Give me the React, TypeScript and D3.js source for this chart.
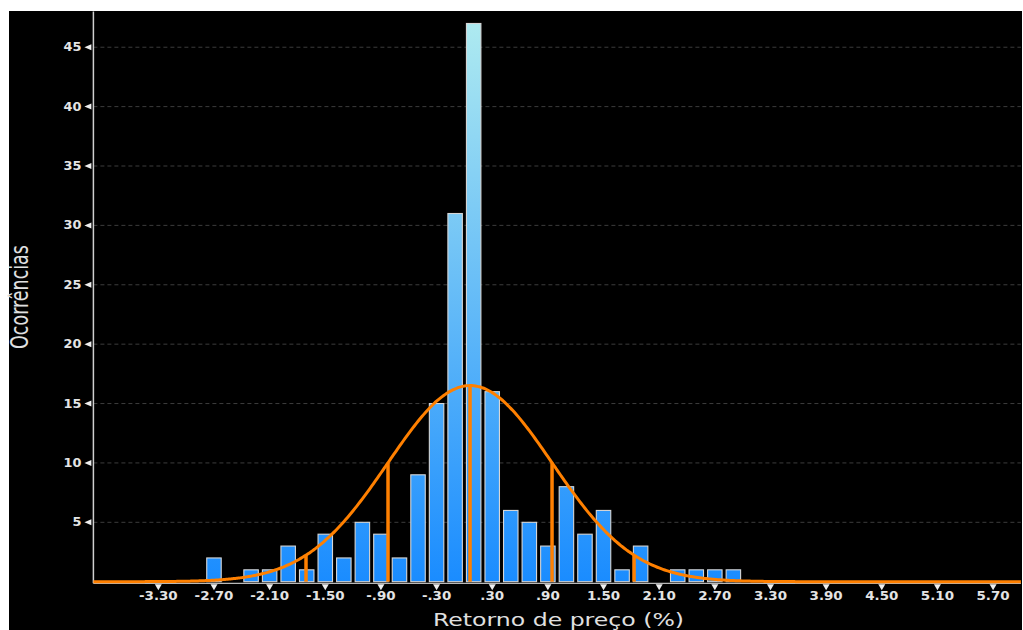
import React from 'react';
import * as d3 from 'd3';

// histogram bins (centre of each 0.2-wide bin) and counts
const binCenters = [
    -2.7, -2.5, -2.3, -2.1, -1.9, -1.7, -1.5, -1.3, -1.1, -0.9, -0.7, -0.5, -0.3, -0.1,
    0.1, 0.3, 0.5, 0.7, 0.9, 1.1, 1.3, 1.5, 1.7, 1.9, 2.1, 2.3, 2.5, 2.7, 2.9,
];
const counts = [
    2, 0, 1, 1, 3, 1, 4, 2, 5, 4, 2, 9, 15, 31,
    47, 16, 6, 5, 3, 8, 4, 6, 1, 3, 0, 1, 1, 1, 1,
];
const binWidth = 0.2;

const xTicks = [-3.3, -2.7, -2.1, -1.5, -0.9, -0.3, 0.3, 0.9, 1.5, 2.1, 2.7, 3.3, 3.9, 4.5, 5.1, 5.7];
const xTickLabels = ['-3.30', '-2.70', '-2.10', '-1.50', '-.90', '-.30', '.30', '.90', '1.50', '2.10', '2.70', '3.30', '3.90', '4.50', '5.10', '5.70'];
const yTicks = [5, 10, 15, 20, 25, 30, 35, 40, 45];
const sigmaMarks = [-2, -1, 0, 1, 2];

const xTitle = 'Retorno de preço (%)';
const yTitle = 'Ocorrências';

const W = 1023;
const H = 630;

export default function App() {
    const x = d3.scaleLinear().domain([-4, 6]).range([93.4, 1020.9]);
    const y = d3.scaleLinear().domain([0, 48]).range([581.7, 11.6]);

    // fitted normal curve from the histogram itself
    const n = d3.sum(counts);
    const mean = d3.sum(binCenters.map((c, i) => c * counts[i])) / n;
    const variance = d3.sum(binCenters.map((c, i) => counts[i] * (c - mean) ** 2)) / n;
    const sd = Math.sqrt(variance);
    const amp = (n * binWidth) / (sd * Math.sqrt(2 * Math.PI));
    const pdf = (v: number) => amp * Math.exp(-0.5 * ((v - mean) / sd) ** 2);

    const curvePts = d3.range(-4, 6.0001, 0.02).map(v => [v, pdf(v)] as [number, number]);
    const line = d3.line<[number, number]>()
        .x(d => x(d[0]))
        .y(d => y(d[1]))
        .curve(d3.curveMonotoneX);

    const bandPx = x(binWidth) - x(0);
    const barW = bandPx * 0.78;

    const orange = '#ff8000';
    const labelColor = '#e4e4e4';

    return (
        <div style={{ position: 'absolute', left: 0, top: 0 }}>
            <svg width={W} height={H} style={{ display: 'block' }}>
                <defs>
                    <linearGradient id="barGrad" gradientUnits="userSpaceOnUse" x1="0" y1={y(0)} x2="0" y2={y(47)}>
                        <stop offset="0%" stopColor="#1a8cff" />
                        <stop offset="100%" stopColor="#aeeaf0" />
                    </linearGradient>
                </defs>
                <rect x={0} y={0} width={W} height={H} fill="#ffffff" />
                <rect x={9} y={11} width={1013} height={H - 11} fill="#000000" />

                {/* grid */}
                {yTicks.map(t => (
                    <line key={'g' + t} x1={x(-4)} x2={x(6)} y1={y(t)} y2={y(t)}
                        stroke="#3c3c3c" strokeWidth={1} strokeDasharray="4,3" />
                ))}

                {/* bars */}
                {binCenters.map((c, i) => counts[i] > 0 && (
                    <rect key={'b' + i}
                        x={x(c) - barW / 2}
                        y={y(counts[i])}
                        width={barW}
                        height={y(0) - y(counts[i])}
                        fill="url(#barGrad)"
                        stroke="#d6d6d6"
                        strokeWidth={1.1} />
                ))}

                {/* axes */}
                <line x1={x(-4)} x2={x(-4)} y1={y(48)} y2={y(0) + 1.5} stroke="#cfcfcf" strokeWidth={1.5} />
                <line x1={x(-4)} x2={x(6)} y1={y(0) + 1.6} y2={y(0) + 1.6} stroke="#e8e8e8" strokeWidth={1} />

                {/* normal curve and sigma lines */}
                {sigmaMarks.map(k => {
                    const v = mean + k * sd;
                    return (
                        <line key={'s' + k} x1={x(v)} x2={x(v)} y1={y(0)} y2={y(pdf(v))}
                            stroke={orange} strokeWidth={3.5} />
                    );
                })}
                <path d={line(curvePts) || ''} fill="none" stroke={orange} strokeWidth={3} />

                {/* y ticks */}
                {yTicks.map(t => (
                    <g key={'yt' + t}>
                        <path d={`M${x(-4) - 9},${y(t)} L${x(-4) - 2},${y(t) - 3} L${x(-4) - 2},${y(t) + 3} Z`} fill="#eeeeee" />
                        <text transform={`translate(${x(-4) - 12},${y(t) + 4}) scale(1.12,1)`}
                            textAnchor="end" fontFamily="DejaVu Sans, Verdana, sans-serif"
                            fontWeight="bold" fontSize={11.5} fill={labelColor}>{t}</text>
                    </g>
                ))}

                {/* x ticks */}
                {xTicks.map((t, i) => (
                    <g key={'xt' + t}>
                        <path d={`M${x(t) - 3.5},${y(0) + 2.5} L${x(t) + 3.5},${y(0) + 2.5} L${x(t)},${y(0) + 8.5} Z`} fill="#eeeeee" />
                        <text transform={`translate(${x(t)},${y(0) + 18.5}) scale(1.12,1)`}
                            textAnchor="middle" fontFamily="DejaVu Sans, Verdana, sans-serif"
                            fontWeight="bold" fontSize={12} fill={labelColor}>{xTickLabels[i]}</text>
                    </g>
                ))}

                {/* titles */}
                <text x={433} y={626} textLength={251} lengthAdjust="spacingAndGlyphs"
                    fontFamily="DejaVu Sans, Verdana, sans-serif" fontSize={18} fill="#e0e0e0">{xTitle}</text>
                <text transform="translate(28,297) scale(1.4,1) rotate(-90)" textAnchor="middle"
                    fontFamily="DejaVu Sans, Verdana, sans-serif" fontSize={17.5} fill="#e0e0e0">{yTitle}</text>
            </svg>
        </div>
    );
}
